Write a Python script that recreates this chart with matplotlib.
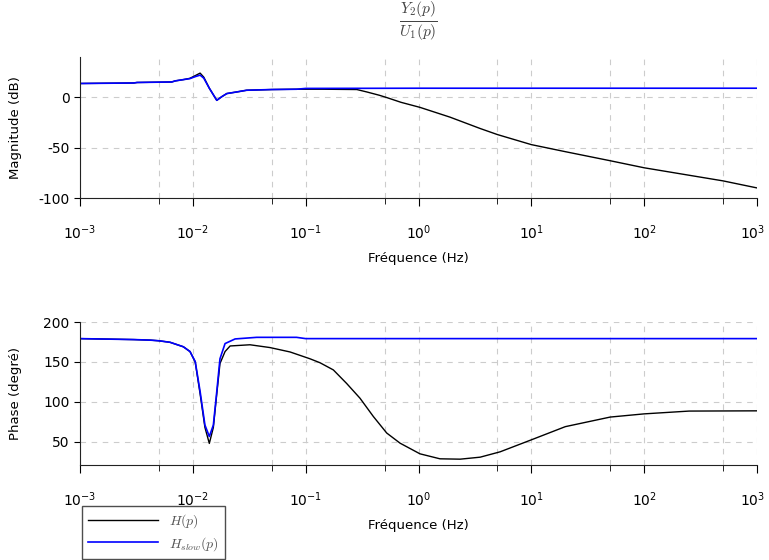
import numpy as np
import matplotlib
matplotlib.use('Agg')
import matplotlib.pyplot as plt
import matplotlib.transforms as mtransforms
from matplotlib.ticker import FixedLocator, NullFormatter, LogFormatterSciNotation

plt.rcParams['font.family'] = ['DejaVu Sans']
plt.rcParams['mathtext.fontset'] = 'cm'
plt.rcParams['axes.unicode_minus'] = False

# magnitude (dB), H(p)
f_mag_h = [1e-3, 3e-3, 3.2e-3, 6.5e-3, 7e-3, 8.2e-3, 9.4e-3, 0.0105, 0.0116, 0.0125, 0.014,
           0.0163, 0.018, 0.02, 0.0245, 0.03, 0.05, 0.083, 0.1435, 0.284, 0.348, 0.45, 0.524,
           0.7, 1.03, 1.9, 3.52, 5, 10, 20, 50, 100, 200, 500, 1000]
mag_h = [13.7, 14.2, 14.7, 15.2, 16.3, 17.5, 18.8, 21.5, 24, 20, 9,
         -3, 0.5, 3.7, 5.3, 7, 7.7, 8, 8, 7.7, 5.3, 2, -0.3,
         -5, -10, -19.7, -31, -37, -47, -54, -63, -70, -75.6, -83, -90]

# magnitude (dB), H_slow(p)
f_mag_s = [1e-3, 3e-3, 3.2e-3, 6.5e-3, 7e-3, 8.2e-3, 9.4e-3, 0.0105, 0.0116, 0.0125, 0.014,
           0.0163, 0.018, 0.02, 0.0245, 0.03, 0.05, 0.083, 0.1, 1, 10, 100, 1000]
mag_s = [13.7, 14.2, 14.7, 15.2, 16.3, 17.5, 18.5, 20.5, 22, 19, 9,
         -3, 0.5, 3.7, 5.3, 7, 7.7, 8, 8.8, 9, 9, 9, 9]

# phase (deg), H(p)
f_ph_h = [1e-3, 3e-3, 4.2e-3, 5e-3, 6.28e-3, 8.24e-3, 9.44e-3, 0.0105, 0.0116, 0.0128, 0.014,
          0.0152, 0.0163, 0.0174, 0.0193, 0.0214, 0.0321, 0.0483, 0.0727, 0.109, 0.134, 0.176,
          0.231, 0.303, 0.398, 0.523, 0.687, 1.03, 1.55, 2.34, 3.52, 5.29, 10, 20, 50, 100,
          250, 1000]
ph_h = [179.2, 178, 177.3, 176.5, 174.6, 169, 163, 150, 110, 68, 48,
        68, 110, 148, 163, 170, 171.5, 168, 162.5, 154, 149, 140,
        123, 104.6, 81.7, 61, 48.3, 35, 28.75, 28.3, 30.8, 37.5, 52.5, 69, 81, 85,
        88.5, 88.8]

# phase (deg), H_slow(p)
f_ph_s = [1e-3, 3e-3, 4.2e-3, 5e-3, 6.28e-3, 8.24e-3, 9.44e-3, 0.0105, 0.0116, 0.0128, 0.014,
          0.0152, 0.0163, 0.0174, 0.0193, 0.0237, 0.0368, 0.083, 0.1, 1, 1000]
ph_s = [179.2, 178, 177.3, 176.5, 174.6, 169, 163, 150.4, 113, 71, 56.7,
        71, 113, 154, 173, 178.8, 180.8, 180.8, 179.2, 179.2, 179.2]

xticks = [1e-3, 1e-2, 1e-1, 1e0, 1e1, 1e2, 1e3]
xminor = [5e-3, 5e-2, 5e-1, 5e0, 5e1, 5e2]
xlabel = 'Fréquence (Hz)'
labels = ['$H(p)$', '$H_{slow}(p)$']


def style(ax, ylim, yticks, ylab):
    ax.set_xscale('log')
    ax.set_xlim(1e-3, 1e3)
    ax.set_ylim(*ylim)
    ax.set_yticks(yticks)
    ax.xaxis.set_major_locator(FixedLocator(xticks))
    ax.xaxis.set_major_formatter(LogFormatterSciNotation())
    ax.xaxis.set_minor_locator(FixedLocator(xminor))
    ax.xaxis.set_minor_formatter(NullFormatter())
    for s in ['top', 'right']:
        ax.spines[s].set_visible(False)
    for s in ['left', 'bottom']:
        ax.spines[s].set_color('#222222')
    ax.grid(True, which='both', axis='x', ls=(0, (5, 5)), color='#cccccc', lw=0.8)
    ax.grid(True, which='major', axis='y', ls=(0, (5, 5)), color='#cccccc', lw=0.8)
    ax.tick_params(axis='x', which='major', length=6, pad=12, labelsize=10, direction='out')
    ax.tick_params(axis='x', which='minor', length=4, direction='out')
    ax.tick_params(axis='y', length=4, labelsize=10, direction='out')
    ax.set_xlabel(xlabel, fontsize=9.5)
    ax.xaxis.set_label_coords(0.5, -0.38)
    ax.set_ylabel(ylab, fontsize=9.5)
    ax.yaxis.set_label_coords(-0.085, 0.5)


fig = plt.figure(figsize=(7.69, 5.6), dpi=100)
ax1 = fig.add_axes([80 / 769, 1 - 198 / 560, 677 / 769, 141 / 560])
ax2 = fig.add_axes([80 / 769, 1 - 465 / 560, 677 / 769, 143 / 560])

ax1.plot(f_mag_h, mag_h, color='black', lw=1.0)
ax1.plot(f_mag_s, mag_s, color='#0000ff', lw=1.2)
style(ax1, (-100, 40), [-100, -50, 0], 'Magnitude (dB)')

l1, = ax2.plot(f_ph_h, ph_h, color='black', lw=1.0)
l2, = ax2.plot(f_ph_s, ph_s, color='#0000ff', lw=1.2)
style(ax2, (21, 200), [50, 100, 150, 200], 'Phase (degré)')

# keep the 10^3 label inside the figure
fig.canvas.draw()
shift = mtransforms.ScaledTranslation(-4 / 100, 0, fig.dpi_scale_trans)
for ax in (ax1, ax2):
    last = ax.xaxis.get_major_ticks()[-1]
    last.label1.set_transform(last.label1.get_transform() + shift)

fig.text(418 / 769, 1 - 21 / 560, r'$\frac{Y_2(p)}{U_1(p)}$', ha='center', va='center',
         fontsize=16, color='#444444')

leg = fig.legend([l1, l2], labels, loc='upper left', bbox_to_anchor=(82 / 769, 1 - 506 / 560),
                 borderaxespad=0, fancybox=False, edgecolor='#222222', fontsize=10,
                 handlelength=5.0, handletextpad=0.8, labelspacing=0.35, borderpad=0.45)
leg.get_frame().set_linewidth(1.0)
for t in leg.get_texts():
    t.set_color('#555555')

fig.savefig('out.png', dpi=100)
